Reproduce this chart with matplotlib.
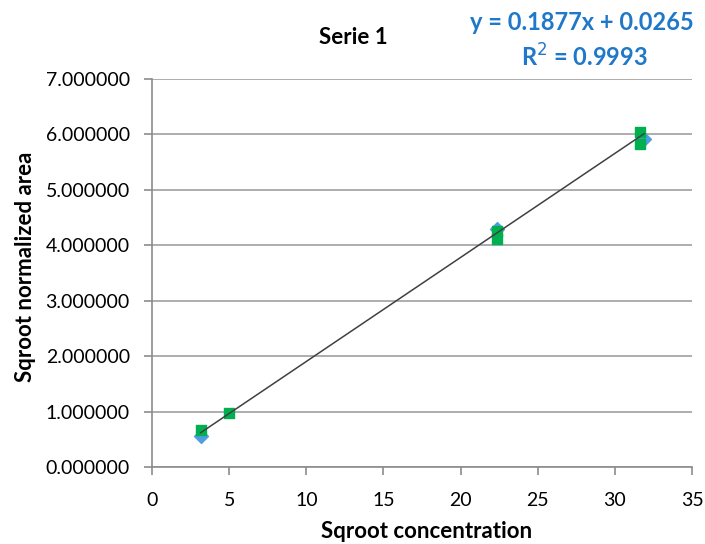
import matplotlib.pyplot as plt

# sqrt(concentration) vs sqrt(normalized area)
x_blue = [3.16, 22.36, 31.9]
y_blue = [0.56, 4.30, 5.92]
x_green = [3.16, 5.0, 22.36, 22.36, 31.62, 31.62]
y_green = [0.67, 0.98, 4.25, 4.11, 6.05, 5.83]

slope = 0.1877
intercept = 0.0265
r2 = 0.9993

plt.rcParams['font.family'] = ['Lato', 'DejaVu Sans']

fig = plt.figure(figsize=(7.05, 5.44), dpi=100)
ax = fig.add_axes([152 / 705, 1 - 467 / 544, 540 / 705, 388 / 544])

ax.set_xlim(0, 35)
ax.set_ylim(0, 7)
ax.set_xticks(range(0, 36, 5))
ax.set_yticks(range(0, 8))
ax.set_yticklabels(['%.6f' % v for v in range(0, 8)])
ax.grid(axis='y', color='#a0a0a0', lw=1.2)
ax.set_axisbelow(True)
for s in ['top', 'right']:
    ax.spines[s].set_visible(False)
for s in ['left', 'bottom']:
    ax.spines[s].set_color('#8c8c8c')
    ax.spines[s].set_linewidth(1.2)
ax.tick_params(colors='#8c8c8c', width=1.2, length=6, labelsize=14, labelcolor='black')
ax.tick_params(axis='x', pad=12)
ax.tick_params(axis='y', pad=10)

ax.scatter(x_blue, y_blue, marker='D', s=50, color='#4f9ee0', zorder=3)
ax.scatter(x_green, y_green, marker='s', s=60, color='#00b050', zorder=4)

xs = [min(x_blue + x_green), max(x_blue + x_green)]
ax.plot(xs, [slope * v + intercept for v in xs], color='#404040', lw=1.1, zorder=5)

ax.set_xlabel('Sqroot concentration', fontsize=16, fontweight='bold', va='center')
ax.xaxis.set_label_coords(0.508, -0.165)
ax.set_ylabel('Sqroot normalized area', fontsize=16, fontweight='bold', va='center')
ax.yaxis.set_label_coords(-0.235, 0.515)

fig.text(353 / 705, 1 - 37 / 544, 'Serie 1', ha='center', va='center',
         fontsize=16, fontweight='bold')
fig.text(582 / 705, 1 - 22 / 544, 'y = %.4fx + %.4f' % (slope, intercept),
         ha='center', va='center', fontsize=17, fontweight='bold', color='#1f78c8')
fig.text(584 / 705, 1 - 57 / 544, 'R$^2$ = %.4f' % r2,
         ha='center', va='center', fontsize=17, fontweight='bold', color='#1f78c8')

fig.savefig('out.png')
